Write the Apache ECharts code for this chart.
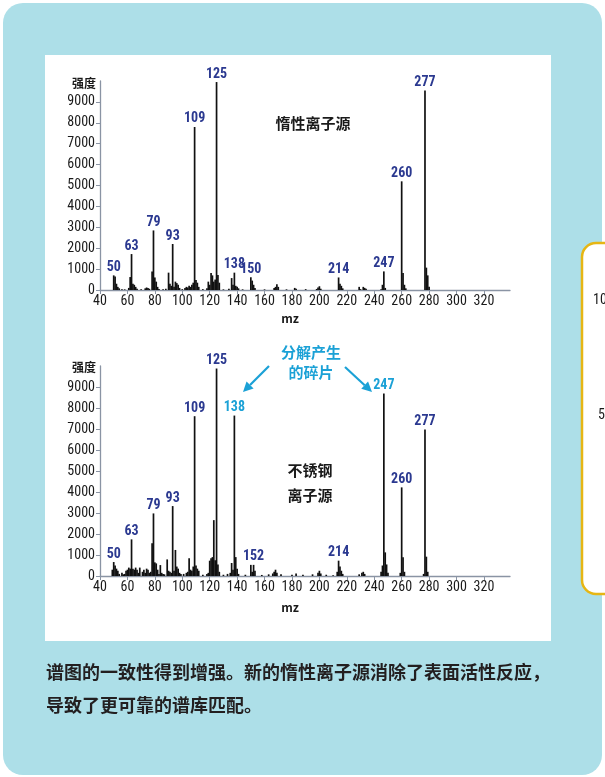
<!DOCTYPE html>
<html>
<head>
<meta charset="utf-8">
<script src="https://cdn.jsdelivr.net/npm/echarts@6/dist/echarts.min.js"></script>
<style>
  html, body { margin: 0; padding: 0; background: #ffffff; }
  #chart { width: 605px; height: 777px; }
</style>
</head>
<body>
<div id="chart"></div>
<script>
// Axis ticks
const MZ_TICKS = [40, 60, 80, 100, 120, 140, 160, 180, 200, 220, 240, 260, 280, 300, 320];
const INTENSITY_TICKS = [0, 1000, 2000, 3000, 4000, 5000, 6000, 7000, 8000, 9000];

// Spectrum acquired with the inert ion source
const inertMz = [
  50, 51, 52, 53, 54, 56, 58,
  61, 62, 63, 64, 65, 66, 67, 70, 73, 74, 75, 76,
  78, 79, 80, 81, 82, 83, 86, 88,
  90, 91, 92, 93, 94, 95, 96, 97, 98,
  100, 102, 103, 104, 105, 106, 107, 108, 109, 110, 111, 112,
  115, 118, 119, 120, 121, 122, 123, 124, 125, 126, 127,
  130, 134, 136, 137, 138, 139, 140, 141,
  144, 150, 151, 152, 153,
  160, 167, 168, 169, 170, 176, 182, 183, 190, 198, 199, 200, 201,
  214, 215, 216, 217, 229, 230, 232, 233, 234,
  245, 246, 247, 248,
  260, 261, 262, 263,
  277, 278, 279, 280
];
const inertIntensity = [
  700, 650, 300, 150, 80, 40, 30,
  100, 620, 1720, 300, 250, 150, 60, 30, 80, 120, 100, 60,
  890, 2850, 600, 400, 150, 50, 30, 60,
  830, 300, 200, 2200, 150, 400, 330, 250, 100,
  40, 100, 150, 120, 200, 150, 250, 350, 7800, 480, 350, 150,
  40, 80, 400, 250, 810, 700, 400, 500, 9950, 720, 350,
  30, 60, 570, 250, 830, 200, 150, 80,
  30, 610, 450, 250, 100,
  30, 100, 150, 280, 150, 30, 100, 60, 40, 50, 120, 180, 60,
  600, 300, 200, 80, 150, 40, 150, 100, 60,
  30, 250, 890, 100,
  5200, 810, 250, 80,
  9550, 1070, 700, 150
];
const inertLabeled = [50, 63, 79, 93, 109, 125, 138, 150, 214, 247, 260, 277];

// Spectrum acquired with the stainless steel ion source
const steelMz = [
  49, 50, 51, 52, 53, 54, 56, 57, 58, 59, 60,
  61, 62, 63, 64, 65, 66, 67, 68, 69, 71, 72, 73, 74, 75, 76, 77,
  78, 79, 80, 81, 82, 83, 84, 85, 86, 87,
  89, 90, 91, 92, 93, 94, 95, 96, 97, 98, 99,
  101, 103, 104, 105, 106, 107, 108, 109, 110, 111, 112,
  115, 118, 119, 120, 121, 122, 123, 124, 125, 126, 127,
  130, 133, 135, 136, 137, 138, 139, 140, 141,
  146, 150, 151, 152, 153,
  158, 163, 166, 167, 168, 169, 172, 180, 183, 188, 195, 199, 200, 201, 205, 210,
  213, 214, 215, 216, 217, 229, 231, 232, 233,
  245, 246, 247, 248, 249, 250,
  259, 260, 261, 262,
  276, 277, 278, 279
];
const steelIntensity = [
  300, 665, 500, 350, 250, 100, 150, 80, 100, 250, 300,
  400, 350, 1745, 350, 300, 400, 300, 150, 400, 200, 300, 150, 350, 300, 150, 200,
  1555, 2980, 650, 600, 300, 100, 520, 150, 100, 80,
  790, 250, 200, 150, 3330, 250, 1240, 450, 350, 150, 100,
  100, 150, 200, 850, 300, 250, 450, 7610, 500, 350, 250,
  60, 100, 150, 730, 850, 900, 2660, 750, 9880, 550, 200,
  60, 100, 150, 620, 300, 7640, 900, 350, 100,
  60, 530, 200, 530, 250,
  50, 80, 120, 200, 300, 150, 80, 60, 120, 60, 80, 150, 250, 120, 60, 40,
  200, 730, 450, 250, 100, 80, 150, 200, 100,
  200, 500, 8690, 1125, 550, 150,
  150, 4220, 890, 200,
  100, 6975, 920, 200
];
const steelLabeled = [50, 63, 79, 93, 109, 125, 138, 152, 214, 247, 260, 277];
const steelFragments = [138, 247];

const NAVY = '#2b3990';
const CYAN = '#1ba1d6';
const AXIS = '#8a94a4';
const NUM_FONT = "'Liberation Sans Narrow', 'Arial Narrow', 'Roboto Condensed', 'DejaVu Sans Condensed', 'Liberation Sans', sans-serif";
const CJK_FONT = "'Noto Sans CJK SC', 'Noto Sans', sans-serif";

// nudges for labels whose neighbours sit close by (px)
const labelNudge = { 0: { 138: [-2, 0], 150: [3, 0] }, 1: {} };

function peakData(idx, mz, intensity, labeled, highlighted) {
  return mz.map((m, i) => {
    const item = { value: [m, intensity[i]] };
    if (labeled.includes(m)) {
      item.label = {
        show: true,
        formatter: String(m),
        color: highlighted.includes(m) ? CYAN : NAVY,
        offset: labelNudge[idx][m] || [0, 0]
      };
    }
    return item;
  });
}

function xAxisFor(gridIndex) {
  return {
    type: 'value', gridIndex, min: 40, max: 339,
    axisLine: { show: true, onZero: false, lineStyle: { color: AXIS, width: 1.3 } },
    axisTick: { show: true, length: 4, customValues: MZ_TICKS, lineStyle: { color: AXIS } },
    axisLabel: {
      customValues: MZ_TICKS, formatter: v => String(v),
      fontFamily: NUM_FONT, fontSize: 14, color: '#1a1a1a', margin: 4
    },
    splitLine: { show: false }
  };
}

function yAxisFor(gridIndex) {
  return {
    type: 'value', gridIndex, min: 0, max: 10000,
    axisLine: { show: true, lineStyle: { color: AXIS, width: 1.3 } },
    axisTick: { show: true, length: 4, customValues: INTENSITY_TICKS, lineStyle: { color: AXIS } },
    axisLabel: {
      customValues: INTENSITY_TICKS, formatter: v => String(v),
      fontFamily: NUM_FONT, fontSize: 14, color: '#1a1a1a', margin: 5
    },
    splitLine: { show: false }
  };
}

function peakSeries(idx, data) {
  return {
    type: 'bar', xAxisIndex: idx, yAxisIndex: idx,
    barWidth: 1.7,
    itemStyle: { color: '#111111' },
    label: {
      show: false, position: 'top', distance: 1,
      fontFamily: NUM_FONT, fontWeight: 'bold', fontSize: 14
    },
    labelLayout: { hideOverlap: false },
    data,
    z: 3
  };
}

function arrow(x1, y1, x2, y2, color) {
  const dx = x2 - x1, dy = y2 - y1;
  const len = Math.sqrt(dx * dx + dy * dy);
  const ux = dx / len, uy = dy / len;
  const headLen = 10, headHalf = 5;
  const bx = x2 - ux * headLen, by = y2 - uy * headLen;
  const px = -uy * headHalf, py = ux * headHalf;
  return [
    { type: 'line', z: 50, shape: { x1, y1, x2: bx, y2: by }, style: { stroke: color, lineWidth: 2.2 } },
    { type: 'polygon', z: 50, shape: { points: [[x2, y2], [bx + px, by + py], [bx - px, by - py]] }, style: { fill: color } }
  ];
}

function text(x, y, str, opts) {
  return {
    type: 'text', z: 60, x, y,
    style: Object.assign({
      text: str, fill: '#1a1a1a', font: 'bold 15px ' + CJK_FONT,
      textAlign: 'center', textVerticalAlign: 'middle'
    }, opts || {})
  };
}

const chart = echarts.init(document.getElementById('chart'), null, { renderer: 'canvas' });

chart.setOption({
  animation: false,
  backgroundColor: '#ffffff',
  grid: [
    { left: 100, top: 81, width: 410, height: 209 },
    { left: 100, top: 366, width: 410, height: 210 }
  ],
  xAxis: [xAxisFor(0), xAxisFor(1)],
  yAxis: [yAxisFor(0), yAxisFor(1)],
  series: [
    peakSeries(0, peakData(0, inertMz, inertIntensity, inertLabeled, [])),
    peakSeries(1, peakData(1, steelMz, steelIntensity, steelLabeled, steelFragments))
  ],
  graphic: [
    // panels
    { type: 'rect', z: -20, silent: true, shape: { x: 3, y: 3, width: 599, height: 772, r: 20 }, style: { fill: '#addfe8' } },
    { type: 'rect', z: -10, silent: true, shape: { x: 45, y: 55, width: 506, height: 586 }, style: { fill: '#ffffff' } },
    { type: 'rect', z: -10, silent: true, shape: { x: 582, y: 243, width: 40, height: 351, r: 14 }, style: { fill: '#ffffff', stroke: '#e6b614', lineWidth: 2.5 } },
    text(593, 300, '10', { font: '14px ' + NUM_FONT, textAlign: 'left', fill: '#1a1a1a' }),
    text(598, 415, '5', { font: '14px ' + NUM_FONT, textAlign: 'left', fill: '#1a1a1a' }),

    // axis names
    text(84, 83, '强度', { font: 'bold 12px ' + CJK_FONT }),
    text(84, 367, '强度', { font: 'bold 12px ' + CJK_FONT }),
    text(290, 318, 'mz', { font: 'bold 12px ' + CJK_FONT }),
    text(290, 607, 'mz', { font: 'bold 12px ' + CJK_FONT }),

    // spectrum titles
    text(313, 123, '惰性离子源'),
    text(310, 470, '不锈钢'),
    text(310, 495, '离子源'),

    // fragment annotation
    text(311, 352, '分解产生', { fill: CYAN }),
    text(311, 372, '的碎片', { fill: CYAN }),
    ...arrow(269, 366, 243, 392, CYAN),
    ...arrow(345, 367, 372, 392, CYAN),

    // caption
    text(46, 672, '谱图的一致性得到增强。新的惰性离子源消除了表面活性反应，', { font: 'bold 18px ' + CJK_FONT, textAlign: 'left', fill: '#231f20' }),
    text(46, 705, '导致了更可靠的谱库匹配。', { font: 'bold 18px ' + CJK_FONT, textAlign: 'left', fill: '#231f20' })
  ]
});
</script>
</body>
</html>
